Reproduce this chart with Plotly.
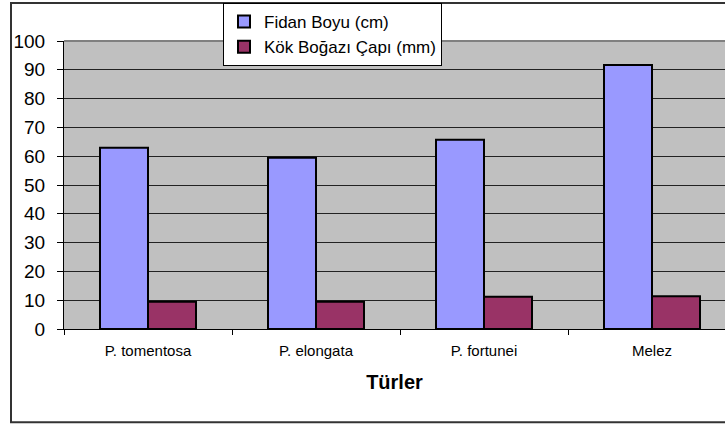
import plotly.graph_objects as go

categories = ["P. tomentosa", "P. elongata", "P. fortunei", "Melez"]
fidan_boyu = [62.9, 59.5, 65.7, 91.7]
kok_bogazi = [9.5, 9.5, 11.2, 11.4]
series_names = ["Fidan Boyu (cm)", "Kök Boğazı Çapı (mm)"]
y_ticks = [0, 10, 20, 30, 40, 50, 60, 70, 80, 90, 100]

W, H = 725, 427
L, R_EDGE = 64, 725
TOP, BOTTOM = 41, 329.5
pw = R_EDGE - L
ph = BOTTOM - TOP
cat_px = 168.0

def px_x(p):
    return (p - L) / pw

def px_y(p):
    return (BOTTOM - p) / ph

fig = go.Figure()
fig.add_trace(go.Bar(x=categories, y=fidan_boyu, name=series_names[0],
                     marker=dict(color="#9999FF", line=dict(color="#000000", width=2))))
fig.add_trace(go.Bar(x=categories, y=kok_bogazi, name=series_names[1],
                     marker=dict(color="#993366", line=dict(color="#000000", width=2))))

x_max = -0.5 + pw / cat_px

fig.update_layout(
    width=W, height=H,
    margin=dict(l=L, r=W - R_EDGE, t=TOP, b=H - BOTTOM, autoexpand=False),
    paper_bgcolor="white",
    plot_bgcolor="#C0C0C0",
    barmode="group",
    bargap=1 - 96 / 168,
    bargroupgap=0,
    font=dict(family="Arial, Liberation Sans, sans-serif", color="#000000"),
    showlegend=True,
    legend=dict(
        xref="container", yref="container",
        x=223 / W, y=1 - 3 / H, xanchor="left", yanchor="top",
        bgcolor="white", bordercolor="#000000", borderwidth=1,
        font=dict(size=17, family="Arial, Liberation Sans, sans-serif"),
        tracegroupgap=0, itemwidth=30,
    ),
    xaxis=dict(
        range=[-0.5, x_max],
        showline=True, linecolor="#000000", linewidth=1,
        ticks="outside", ticklen=5, tickcolor="#000000",
        tickson="boundaries",
        tickfont=dict(size=15),
        ticklabelstandoff=8,
        title=dict(text="<b>Türler</b>", font=dict(size=20), standoff=16),
        showgrid=False,
        automargin=False,
    ),
    yaxis=dict(
        range=[0, 100],
        tickvals=y_ticks,
        showline=True, linecolor="#000000", linewidth=1,
        ticks="outside", ticklen=6, tickcolor="#000000",
        tickfont=dict(size=19),
        ticklabelstandoff=8,
        showgrid=True, gridcolor="#222222", gridwidth=1,
        zeroline=False,
        automargin=False,
    ),
    shapes=[
        dict(type="rect", xref="paper", yref="paper",
             x0=px_x(11), x1=px_x(740), y0=px_y(423), y1=px_y(3),
             line=dict(color="#333333", width=2), fillcolor="rgba(0,0,0,0)", layer="below"),
        dict(type="line", xref="paper", yref="paper",
             x0=0, x1=1, y0=1, y1=1,
             line=dict(color="#808080", width=2), layer="above"),
    ],
)

fig.write_html("out.html", config={"displayModeBar": False},
               post_script="document.body.style.margin='0';document.body.style.overflow='hidden';")
